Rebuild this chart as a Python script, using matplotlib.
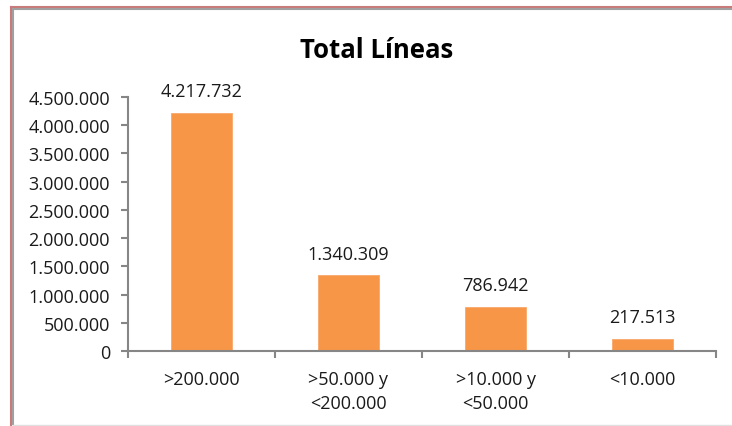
import matplotlib.pyplot as plt
from matplotlib.lines import Line2D

# Data
categories = [">200.000", ">50.000 y\n<200.000", ">10.000 y\n<50.000", "<10.000"]
values = [4217732, 1340309, 786942, 217513]
y_ticks = [0, 500000, 1000000, 1500000, 2000000, 2500000, 3000000, 3500000, 4000000, 4500000]


def fmt(v):
    # thousands separated with dots, as in the original
    return f"{v:,.0f}".replace(",", ".")


plt.rcParams['font.family'] = ['Open Sans', 'DejaVu Sans']

W, H = 732, 427
fig = plt.figure(figsize=(W / 100, H / 100), dpi=100)

# frame of the original chart area (cropped at the right)
fig.add_artist(Line2D([10.5 / W, 10.5 / W], [0, 1 - 7.5 / H], transform=fig.transFigure,
                      color='#c97a7a', lw=1.5))
fig.add_artist(Line2D([10.5 / W, 1], [1 - 7.5 / H, 1 - 7.5 / H], transform=fig.transFigure,
                      color='#c97a7a', lw=1.5))
fig.add_artist(Line2D([12.5 / W, 12.5 / W], [2 / H, 1 - 9.5 / H], transform=fig.transFigure,
                      color='#a0a0a0', lw=1.5))
fig.add_artist(Line2D([12.5 / W, 1], [1 - 9.5 / H, 1 - 9.5 / H], transform=fig.transFigure,
                      color='#a0a0a0', lw=1.5))
fig.add_artist(Line2D([12.5 / W, 1], [1.5 / H, 1.5 / H], transform=fig.transFigure,
                      color='#e0e0e0', lw=1.0))

left, right, top, bottom = 128, 716, 98, 352
ax = fig.add_axes([left / W, 1 - bottom / H, (right - left) / W, (bottom - top) / H])

x = range(len(categories))
ax.bar(x, values, width=0.41, color='#F79646', edgecolor='#F9A86A', linewidth=0.6, zorder=2)

for xi, v in zip(x, values):
    ax.annotate(fmt(v), (xi, v), xytext=(0, 9), textcoords='offset points',
                ha='center', va='bottom', fontsize=13, color='#1a1a1a')

ax.set_xlim(-0.5, len(categories) - 0.5)
ax.set_ylim(0, 4500000)
ax.set_yticks(y_ticks)
ax.set_yticklabels([fmt(t) for t in y_ticks])

# category boundaries as ticks, labels centered on bars
ax.set_xticks([i - 0.5 for i in range(len(categories) + 1)])
ax.set_xticklabels([])
ax.set_xticks(list(x), minor=True)
ax.set_xticklabels(categories, minor=True, linespacing=1.4)
ax.tick_params(axis='x', which='minor', length=0, pad=14, labelsize=13, labelcolor='#1a1a1a')
ax.tick_params(axis='x', which='major', length=5, width=1.5, color='#868686')
ax.tick_params(axis='y', length=5, width=1.5, color='#868686', labelsize=13,
               labelcolor='#1a1a1a', pad=8)

for s in ['top', 'right']:
    ax.spines[s].set_visible(False)
for s in ['left', 'bottom']:
    ax.spines[s].set_color('#868686')
    ax.spines[s].set_linewidth(1.5)

fig.text(377 / W, 1 - 50 / H, "Total Líneas", ha='center', va='center',
         fontsize=18.5, fontweight='bold', color='#000000')

fig.savefig("out.png", dpi=100)
